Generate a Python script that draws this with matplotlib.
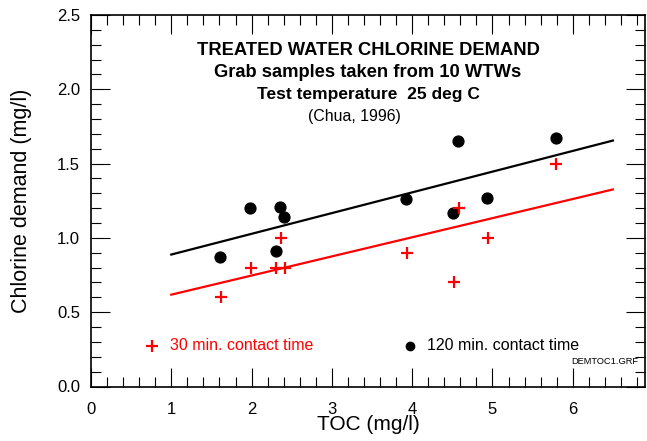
import numpy as np
import matplotlib.pyplot as plt
from matplotlib.ticker import MultipleLocator

plt.rcParams['font.family'] = ['Liberation Sans', 'DejaVu Sans']

# TOC (mg/l) and chlorine demand (mg/l) for the 10 works
toc_120 = [1.61, 1.98, 2.31, 2.36, 2.41, 3.92, 4.51, 4.57, 4.93, 5.79]
cl_120 = [0.87, 1.20, 0.91, 1.21, 1.14, 1.26, 1.17, 1.65, 1.27, 1.67]

toc_30 = [1.62, 1.99, 2.31, 2.37, 2.42, 3.93, 4.52, 4.58, 4.94, 5.79]
cl_30 = [0.60, 0.80, 0.80, 1.00, 0.80, 0.90, 0.70, 1.20, 1.00, 1.50]

# fitted lines
fit_x = [1.0, 6.5]
fit_120 = [0.888, 1.655]
fit_30 = [0.618, 1.326]

fig = plt.figure(figsize=(6.47, 4.41), dpi=100)
ax = fig.add_axes([91 / 647, 1 - 386.5 / 441, (645 - 91) / 647, (386.5 - 15) / 441])

ax.plot(fit_x, fit_120, color='black', lw=1.6)
ax.plot(fit_x, fit_30, color='red', lw=1.6)
ax.plot(toc_120, cl_120, 'o', color='black', ms=7.8, mec='black')
ax.plot(toc_30, cl_30, '+', color='red', ms=9, mew=1.6)

ax.set_xlim(0, 6.9)
ax.set_ylim(0, 2.5)
ax.xaxis.set_major_locator(MultipleLocator(1))
ax.xaxis.set_minor_locator(MultipleLocator(0.2))
ax.yaxis.set_major_locator(MultipleLocator(0.5))
ax.yaxis.set_minor_locator(MultipleLocator(0.1))
ax.yaxis.set_major_formatter(plt.FormatStrFormatter('%.1f'))
ax.tick_params(which='both', direction='in', top=True, right=True, labelsize=12)
ax.tick_params(which='major', length=13.5, width=0.8)
ax.tick_params(which='minor', length=7, width=0.8)
ax.tick_params(axis='x', pad=11)
ax.tick_params(axis='y', pad=8)
for s in ax.spines.values():
    s.set_linewidth(1.2)

ax.set_xlabel('TOC (mg/l)', fontsize=15, labelpad=-1)
ax.set_ylabel('Chlorine demand (mg/l)', fontsize=15.5, labelpad=18)

ax.text(3.45, 2.264, 'TREATED WATER CHLORINE DEMAND', ha='center', va='center',
        fontsize=13.2, fontweight='bold')
ax.text(3.45, 2.116, 'Grab samples taken from 10 WTWs', ha='center', va='center',
        fontsize=13.2, fontweight='bold')
ax.text(3.45, 1.968, 'Test temperature  25 deg C', ha='center', va='center',
        fontsize=12.5, fontweight='bold')
ax.text(3.28, 1.814, '(Chua, 1996)', ha='center', va='center', fontsize=11.4)

ax.plot([0.76], [0.273], '+', color='red', ms=9, mew=1.6)
ax.text(0.98, 0.273, '30 min. contact time', color='red', va='center', fontsize=11.5)
ax.plot([3.97], [0.273], 'o', color='black', ms=6)
ax.text(4.18, 0.273, '120 min. contact time', color='black', va='center', fontsize=11.5)
ax.text(6.81, 0.165, 'DEMTOC1.GRF', ha='right', va='center', fontsize=6.7)

fig.savefig('out.png', dpi=100)
